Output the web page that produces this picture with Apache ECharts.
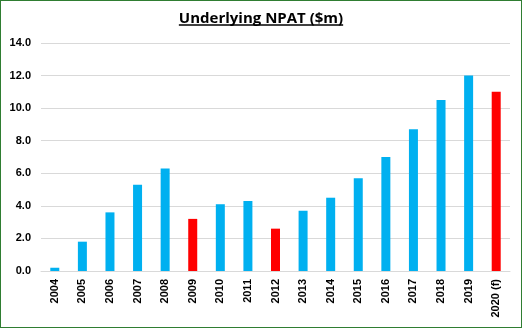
<!DOCTYPE html>
<html>
<head>
<meta charset="utf-8">
<script src="https://cdn.jsdelivr.net/npm/echarts@6/dist/echarts.min.js"></script>
<style>
  html, body { margin: 0; padding: 0; background: #fff; }
  #frame { position: absolute; left: 0; top: 0; width: 520px; height: 326px; border: 1px solid #2f7d32; }
  #chart { width: 520px; height: 326px; }
</style>
</head>
<body>
<div id="frame"><div id="chart"></div></div>
<script>
// Underlying NPAT by year, $m; forecast and down years shown in red
const years = ['2004','2005','2006','2007','2008','2009','2010','2011','2012','2013','2014','2015','2016','2017','2018','2019','2020 (f)'];
const npat = [0.2, 1.8, 3.6, 5.3, 6.3, 3.2, 4.1, 4.3, 2.6, 3.7, 4.5, 5.7, 7.0, 8.7, 10.5, 12.0, 11.0];
const redYears = ['2009', '2012', '2020 (f)'];

const BLUE = '#00b0f0';
const RED = '#ff0000';

const chart = echarts.init(document.getElementById('chart'), null, { renderer: 'canvas' });
chart.setOption({
  animation: false,
  backgroundColor: '#fff',
  title: {
    text: 'Underlying NPAT ($m)',
    left: 'center',
    top: 5,
    textStyle: {
      fontFamily: 'Open Sans',
      fontSize: 15,
      fontWeight: 'bold',
      color: '#000',
      textBorderWidth: 0
    }
  },
  graphic: [],
  grid: { left: 40, right: 11, top: 42, bottom: 56 },
  xAxis: {
    type: 'category',
    data: years,
    axisLine: { lineStyle: { color: '#d9d9d9' } },
    axisTick: { show: false },
    axisLabel: {
      rotate: 90,
      interval: 0,
      margin: 8,
      fontFamily: 'Liberation Sans',
      fontSize: 11,
      fontWeight: 'bold',
      color: '#000'
    }
  },
  yAxis: {
    type: 'value',
    min: 0,
    max: 14,
    interval: 2,
    axisLine: { show: false },
    axisTick: { show: false },
    splitLine: { lineStyle: { color: '#d9d9d9' } },
    axisLabel: {
      formatter: v => v.toFixed(1),
      margin: 10,
      fontFamily: 'Liberation Sans',
      fontSize: 11,
      fontWeight: 'bold',
      color: '#000'
    }
  },
  series: [{
    type: 'bar',
    barWidth: 9,
    data: npat.map((v, i) => ({
      value: v,
      itemStyle: { color: redYears.includes(years[i]) ? RED : BLUE }
    }))
  }]
});

// underline beneath the title
const t = chart.getModel().getComponent('title');
const ztext = chart.getZr().storage.getDisplayList().find(el => el.style && el.style.text === 'Underlying NPAT ($m)');
if (ztext) {
  const r = ztext.getBoundingRect();
  const m = ztext.transform || [1,0,0,1,0,0];
  const x0 = r.x + m[4], y1 = r.y + r.height + m[5];
  chart.setOption({
    graphic: [{
      type: 'line',
      shape: { x1: x0, y1: y1 - 1, x2: x0 + r.width, y2: y1 - 1 },
      style: { stroke: '#000', lineWidth: 1.5 }
    }]
  });
}
</script>
</body>
</html>
